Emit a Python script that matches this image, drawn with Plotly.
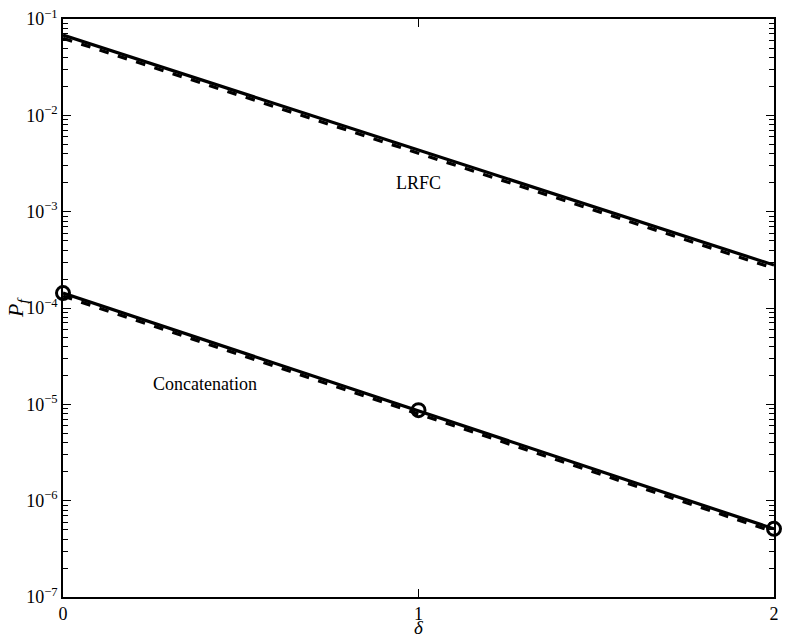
import plotly.graph_objects as go

delta = [0, 1, 2]
lrfc_solid = [0.0682, 4.36e-3, 2.79e-4]
lrfc_dashed = [0.0632, 4.05e-3, 2.58e-4]
concat_solid = [1.43e-4, 8.55e-6, 5.1e-7]
concat_dashed = [1.33e-4, 7.95e-6, 4.75e-7]
concat_sim = [1.43e-4, 8.7e-6, 5.1e-7]

ytick_vals = [1e-7, 1e-6, 1e-5, 1e-4, 1e-3, 1e-2, 1e-1]
ytick_text = ["10<sup>−7</sup>", "10<sup>−6</sup>", "10<sup>−5</sup>", "10<sup>−4</sup>",
              "10<sup>−3</sup>", "10<sup>−2</sup>", "10<sup>−1</sup>"]
minor_vals = [m * 10 ** e for e in range(-7, -1) for m in range(2, 10)]

font_family = "Liberation Serif, DejaVu Serif, serif"

fig = go.Figure()
fig.add_trace(go.Scatter(x=delta, y=lrfc_dashed, mode="lines",
                         line=dict(color="black", width=3.2, dash="dash")))
fig.add_trace(go.Scatter(x=delta, y=lrfc_solid, mode="lines",
                         line=dict(color="black", width=3.2)))
fig.add_trace(go.Scatter(x=delta, y=concat_dashed, mode="lines",
                         line=dict(color="black", width=3.2, dash="dash")))
fig.add_trace(go.Scatter(x=delta, y=concat_solid, mode="lines",
                         line=dict(color="black", width=3.2)))
fig.add_trace(go.Scatter(x=delta, y=concat_sim, mode="markers",
                         marker=dict(symbol="circle-open", size=13, color="black",
                                     line=dict(width=3, color="black")),
                         cliponaxis=False))

fig.add_annotation(x=1.0, y=-2.70, text="LRFC", showarrow=False,
                   font=dict(family=font_family, size=18, color="black"))
fig.add_annotation(x=0.40, y=-4.79, text="Concatenation", showarrow=False,
                   font=dict(family=font_family, size=18, color="black"))
# axis titles
fig.add_annotation(xref="paper", yref="paper", x=0.5, y=0, yshift=-30,
                   text="<i>δ</i>", showarrow=False, yanchor="middle", borderpad=0,
                   font=dict(family=font_family, size=19, color="black"))
fig.add_annotation(xref="paper", yref="paper", x=0, y=0.5, xshift=-46,
                   text="<i>P</i><sub><i>f</i></sub>", showarrow=False, textangle=-90,
                   xanchor="center",
                   font=dict(family=font_family, size=22, color="black"))

fig.update_layout(
    width=789, height=640,
    margin=dict(l=63, r=15, t=19, b=43, autoexpand=False),
    plot_bgcolor="white", paper_bgcolor="white",
    showlegend=False,
    font=dict(family=font_family, size=18, color="black"),
    xaxis=dict(range=[0, 2], tickvals=[0, 1, 2], ticktext=["0", "1", "2"],
               ticks="inside", ticklen=8, tickcolor="black", tickwidth=1,
               showline=True, linecolor="black", linewidth=1.5, mirror="allticks",
               showgrid=False, zeroline=False, automargin=False,
               tickfont=dict(family=font_family, size=18)),
    yaxis=dict(type="log", range=[-7, -1], tickvals=ytick_vals, ticktext=ytick_text,
               ticks="inside", ticklen=8, tickcolor="black", tickwidth=1,
               minor=dict(tickvals=minor_vals, ticks="inside", ticklen=5,
                          tickcolor="black", showgrid=False),
               showline=True, linecolor="black", linewidth=1.5, mirror="allticks",
               showgrid=False, zeroline=False, automargin=False,
               tickfont=dict(family=font_family, size=18)),
)

fig.write_html("out.html", config={"displayModeBar": False},
               post_script="document.body.style.margin='0';document.body.style.overflow='hidden';")
